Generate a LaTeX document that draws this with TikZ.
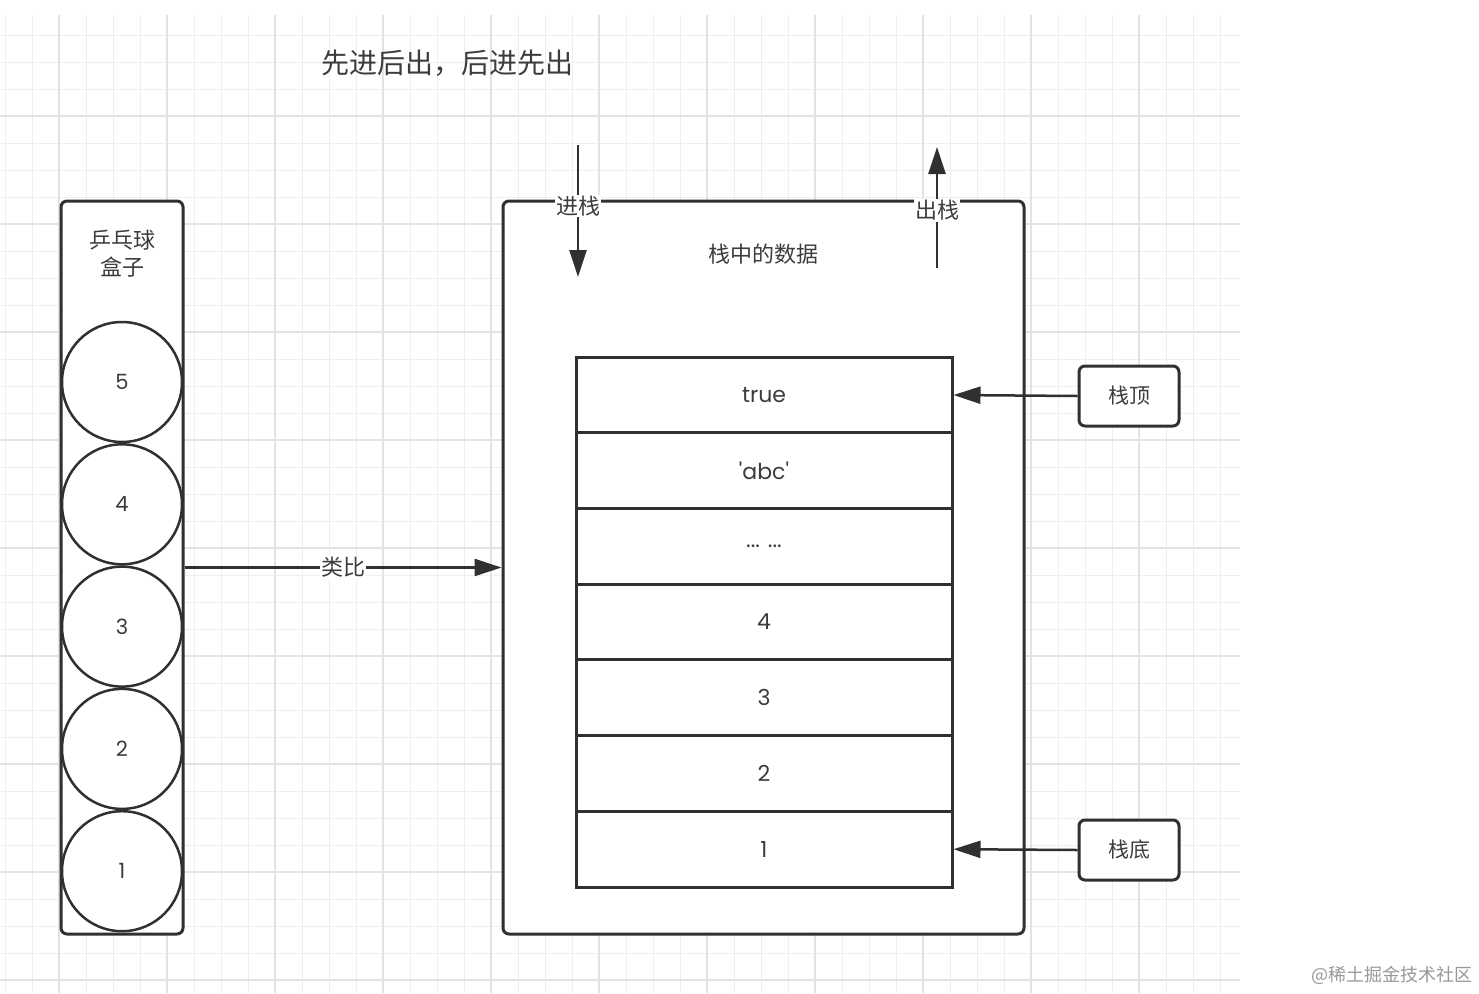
\documentclass[tikz,border=0pt]{standalone}
\usepackage{fontspec}
\setmainfont{Noto Sans CJK SC}
\newfontfamily\datafont{Poppins}
\usepackage{tikz}
\usetikzlibrary{shapes,arrows,arrows.meta,positioning}
\definecolor{ink}{HTML}{303030}
\definecolor{txt}{HTML}{3C3C3C}
\definecolor{gridminor}{HTML}{EEEEEE}
\definecolor{gridmajor}{HTML}{E3E3E3}
\tikzstyle{frame} = [draw=ink, line width=3pt, rectangle, rounded corners=6pt]
\tikzstyle{ball} = [draw=ink, line width=2.5pt, circle, fill=white,
    minimum size=120pt, inner sep=0pt, text=txt, font=\datafont\fontsize{21}{21}\selectfont]
\tikzstyle{cell} = [draw=ink, line width=3pt, rectangle, fill=white,
    minimum width=376pt, minimum height=75.7pt, text=txt, font=\datafont\fontsize{22}{22}\selectfont]
\tikzstyle{tag} = [frame, fill=white, minimum width=100pt, minimum height=60pt,
    text=txt, font=\fontsize{21}{21}\selectfont]
\tikzstyle{label} = [text=txt, font=\fontsize{22}{27}\selectfont, align=center]
\tikzstyle{line} = [draw=ink, line width=2.5pt, ->]

\begin{document}
\begin{tikzpicture}[x=1pt, y=-1pt, node distance=122.3pt,
    >={Triangle[length=27pt,width=17pt]}]

\useasboundingbox[fill=white] (0,0) rectangle (1479,993);
\foreach \i in {0,...,45} \draw[gridminor, line width=1pt] (5+27*\i,15) -- (5+27*\i,993);
\foreach \j in {1,...,36} \draw[gridminor, line width=1pt] (0,8+27*\j) -- (1240,8+27*\j);
\foreach \i in {0,...,10} \draw[gridmajor, line width=1.2pt] (59+108*\i,15) -- (59+108*\i,993);
\foreach \j in {1,...,9} \draw[gridmajor, line width=1.2pt] (0,8+108*\j) -- (1240,8+108*\j);

\node [text=txt, font=\fontsize{28}{28}\selectfont] (title) at (447,63) {先进后出，后进先出};

% ping-pong box
\node [frame, fill=white, minimum width=122pt, minimum height=733pt] (pingbox) at (122,567.5) {};
\node [label] (pinglabel) at (122,254) {乒乓球\\盒子};
\node [ball] (ball5) at (122,382) {5};
\node [ball, below of=ball5] (ball4) {4};
\node [ball, below of=ball4] (ball3) {3};
\node [ball, below of=ball3] (ball2) {2};
\node [ball, below of=ball2] (ball1) {1};

% stack
\node [frame, fill=white, minimum width=521pt, minimum height=733pt] (stackbox) at (763.5,567.5) {};
\node [label] (stacklabel) at (763,254) {栈中的数据};
\begin{scope}[node distance=75.7pt]
\node [cell] (celltrue) at (764,395) {true};
\node [cell, below of=celltrue] (cellabc) {'abc'};
\node [cell, below of=cellabc] (celldots) {... ...};
\node [cell, below of=celldots] (cell4) {4};
\node [cell, below of=cell4] (cell3) {3};
\node [cell, below of=cell3] (cell2) {2};
\node [cell, below of=cell2] (cell1) {1};
\end{scope}

\node [tag] (stacktop) at (1129,396) {栈顶};
\node [tag] (stackbottom) at (1129,850) {栈底};

\coordinate (pushin) at (578,145);
\coordinate (pushend) at (578,277);
\coordinate (popstart) at (937,268);
\coordinate (popout) at (937,147);

\draw [line] (pushin) -- node[pos=0.46, fill=white, inner sep=1pt, label] {进栈} (pushend);
\draw [line] (popstart) -- node[pos=0.475, fill=white, inner sep=1pt, label] {出栈} (popout);
\draw [line] (pingbox.east) -- node[fill=white, inner sep=1pt, label] {类比} (stackbox.west);
\draw [line] (stacktop.west) -- (celltrue.east);
\draw [line] (stackbottom.west) -- (cell1.east);

\node [text=black!40, font=\fontsize{18}{18}\selectfont] (mark) at (1392,975) {@稀土掘金技术社区};

\end{tikzpicture}
\end{document}
